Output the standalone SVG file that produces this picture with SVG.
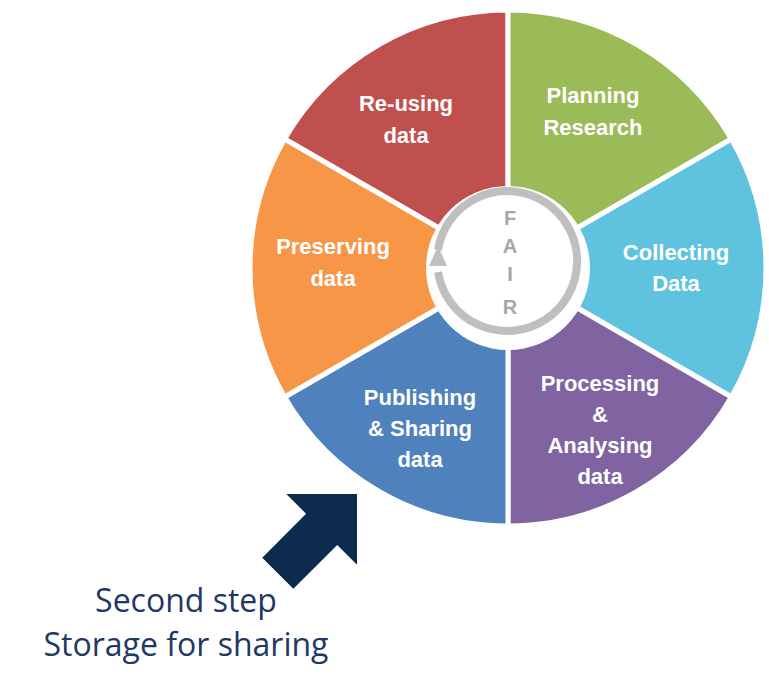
<svg xmlns="http://www.w3.org/2000/svg" width="769" height="690" viewBox="0 0 769 690">
<style>
.seg{stroke:#fff;stroke-width:5}
.lbl{font-family:"Liberation Sans",Arial,sans-serif;font-weight:bold;font-size:22px;fill:#fff;text-anchor:middle}
.fair{font-family:"Liberation Sans",Arial,sans-serif;font-weight:bold;font-size:20px;fill:#A6A6A6;text-anchor:middle}
.cap{font-family:"Open Sans","Liberation Sans",sans-serif;font-size:32px;fill:#1F3864;text-anchor:middle}
</style>
<rect width="769" height="690" fill="#fff"/>
<g id="reusing"><path class="seg" d="M508,268 L284.6,139 A258,258 0 0 1 508,10 Z" fill="#C0504D"/><text class="lbl" x="406" y="111">Re-using</text><text class="lbl" x="406" y="143">data</text></g>
<g id="planning"><path class="seg" d="M508,268 L508,10 A258,258 0 0 1 731.4,139 Z" fill="#9BBB59"/><text class="lbl" x="593" y="103">Planning</text><text class="lbl" x="593" y="135">Research</text></g>
<g id="collecting"><path class="seg" d="M508,268 L731.4,139 A258,258 0 0 1 731.4,397 Z" fill="#5FC3DF"/><text class="lbl" x="676" y="260">Collecting</text><text class="lbl" x="676" y="291">Data</text></g>
<g id="processing"><path class="seg" d="M508,268 L731.4,397 A258,258 0 0 1 508,526 Z" fill="#8064A2"/><text class="lbl" x="600" y="391">Processing</text><text class="lbl" x="600" y="422">&amp;</text><text class="lbl" x="600" y="453">Analysing</text><text class="lbl" x="600" y="484">data</text></g>
<g id="publishing"><path class="seg" d="M508,268 L508,526 A258,258 0 0 1 284.6,397 Z" fill="#4F81BD"/><text class="lbl" x="420" y="405">Publishing</text><text class="lbl" x="420" y="436">&amp; Sharing</text><text class="lbl" x="420" y="467">data</text></g>
<g id="preserving"><path class="seg" d="M508,268 L284.6,397 A258,258 0 0 1 284.6,139 Z" fill="#F79646"/><text class="lbl" x="333" y="254">Preserving</text><text class="lbl" x="333" y="286">data</text></g>
<g id="center">
<circle cx="508" cy="268" r="82" fill="#fff"/>
<path d="M438,250 A70,70 0 1 1 438,272" fill="none" stroke="#BFBFBF" stroke-width="8"/>
<polygon points="438,246 429,266 447,266" fill="#BFBFBF"/>
<text class="fair" x="510" y="225">F</text><text class="fair" x="510" y="253">A</text><text class="fair" x="510" y="281">I</text><text class="fair" x="510" y="314">R</text>
</g>
<g id="pointer"><polygon transform="translate(357,494) rotate(-45)" points="0,0 -50,-50 -50,-22 -112,-22 -112,22 -50,22 -50,50" fill="#0D2A4F"/></g>
<g id="caption"><text class="cap" x="186" y="612">Second step</text><text class="cap" x="186" y="656">Storage for sharing</text></g>
</svg>
